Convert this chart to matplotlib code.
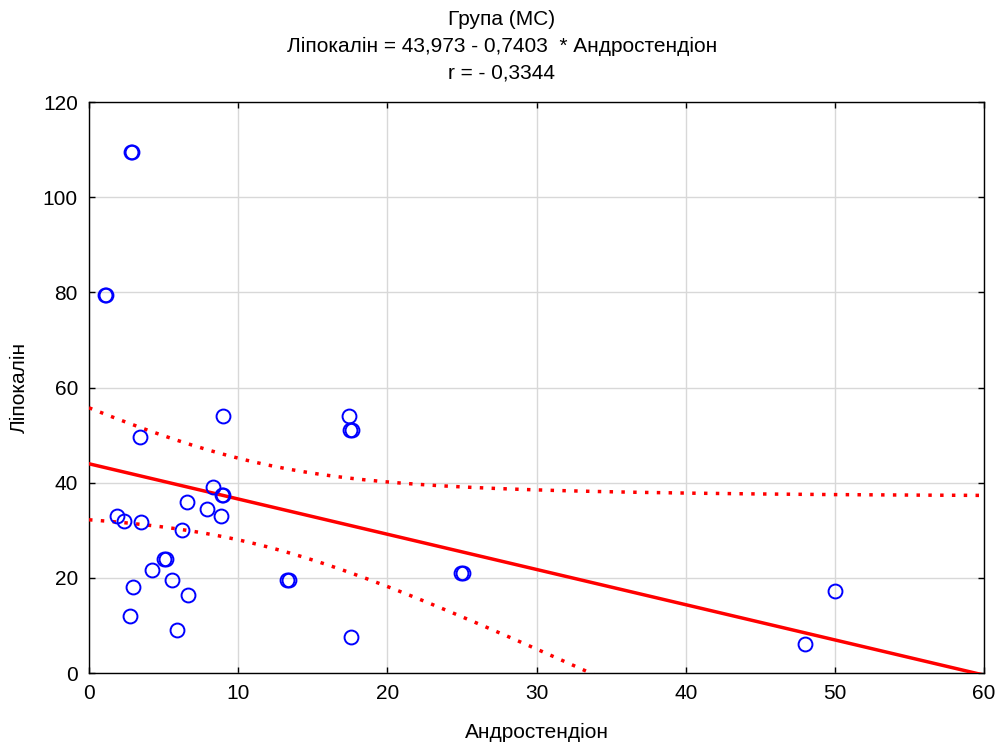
import matplotlib
matplotlib.use('Agg')
import matplotlib.pyplot as plt
import numpy as np

plt.rcParams['font.family'] = ['Liberation Sans', 'DejaVu Sans']

# Андростендіон (x) та Ліпокалін (y), група МС
androstenedione = [2.8, 2.9, 1.05, 1.15, 9.0, 3.4, 8.3, 8.9, 9.0, 6.6, 7.9, 8.85,
                   1.9, 2.35, 3.5, 6.25, 5.05, 5.15, 4.25, 5.55, 2.95, 6.65, 2.75,
                   5.9, 13.3, 13.4, 17.45, 17.5, 17.6, 17.55, 24.95, 25.05, 50.0, 48.0]
lipocalin = [109.5, 109.5, 79.5, 79.5, 54.0, 49.5, 39.0, 37.5, 37.5, 36.0, 34.5, 33.0,
             33.0, 32.0, 31.8, 30.0, 24.0, 24.0, 21.6, 19.5, 18.0, 16.5, 12.0,
             9.0, 19.5, 19.5, 54.0, 51.0, 51.0, 7.5, 21.0, 21.0, 17.3, 6.0]

intercept = 43.973
slope = -0.7403
r_value = -0.3344

x = np.array(androstenedione)
y = np.array(lipocalin)
n = len(x)

# лінія регресії та 95% довірчий інтервал
xs = np.linspace(0, 60, 300)
fit = intercept + slope * xs
resid = y - (intercept + slope * x)
s = np.sqrt(np.sum(resid ** 2) / (n - 2))
sxx = np.sum((x - x.mean()) ** 2)
t_crit = 2.037
half = t_crit * s * np.sqrt(1.0 / n + (xs - x.mean()) ** 2 / sxx)

fig = plt.figure(figsize=(9.98, 7.44), dpi=100, facecolor='white')
ax = fig.add_axes([0.0892, 0.0954, 0.8968, 0.7675])

ax.grid(True, color='#d8d8d8', linewidth=1.0)
ax.set_axisbelow(True)

ax.plot(xs, fit, color='red', linewidth=2.5, zorder=3)
ax.plot(xs, fit + half, color='red', linewidth=2.5, linestyle=(0, (1, 2.4)), zorder=3)
ax.plot(xs, fit - half, color='red', linewidth=2.5, linestyle=(0, (1, 2.4)), zorder=3)

ax.plot(x, y, linestyle='none', marker='o', markersize=10, markerfacecolor='none',
        markeredgecolor='blue', markeredgewidth=1.4, zorder=4)

ax.set_xlim(0, 60)
ax.set_ylim(0, 120)
ax.set_xticks(np.arange(0, 61, 10))
ax.set_yticks(np.arange(0, 121, 20))
ax.tick_params(direction='in', length=4, width=1, top=True, right=True,
               labelsize=15, colors='black', pad=8)
for sp in ax.spines.values():
    sp.set_color('black')
    sp.set_linewidth(1.0)

ax.set_xlabel('Андростендіон', fontsize=15, labelpad=14)
ax.set_ylabel('Ліпокалін', fontsize=15, labelpad=10)

# заголовок по центру фігури
title = f'Група (МС)\nЛіпокалін = {intercept:.3f} - {abs(slope):.4f}  * Андростендіон\nr = - {abs(r_value):.4f}'
fig.text(0.503, 0.938, title.replace('.', ','), fontsize=15, linespacing=1.5,
         ha='center', va='center', multialignment='center')

plt.savefig('out.png', dpi=100, facecolor='white')
plt.close()
